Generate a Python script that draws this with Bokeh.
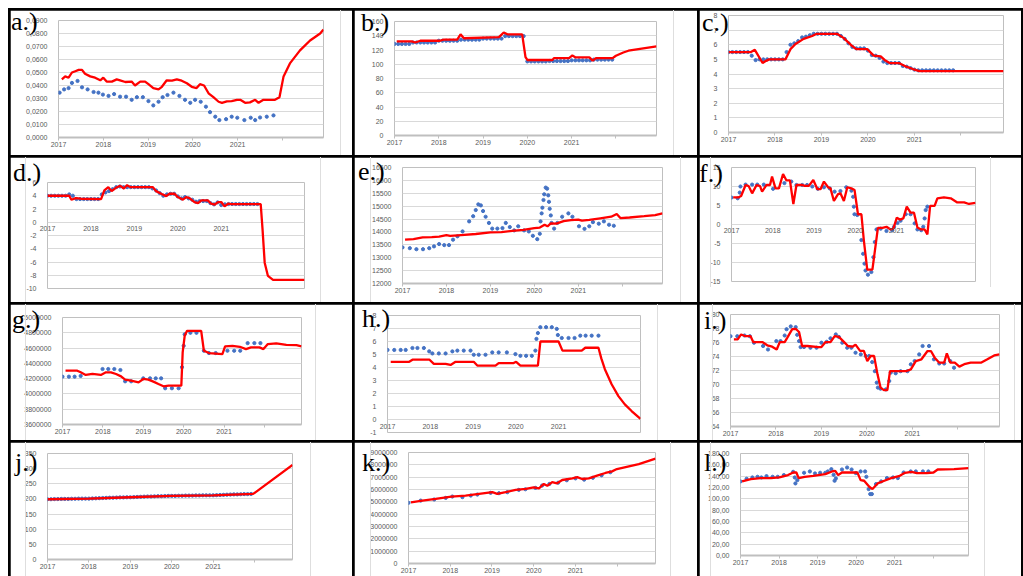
from bokeh.plotting import figure
from bokeh.models import Range1d, FixedTicker, GridBox, Div
from bokeh.embed import file_html
from bokeh.resources import INLINE

# ---------------- data (months counted from Jan 2017) ----------------
YEAR_TICKS = [2017, 2018, 2019, 2020, 2021, 2022]
YEAR_LABELS = ["2017", "2018", "2019", "2020", "2021", ""]

# a
a_red_m = [0.9,1.8,2.7,3.6,4.5,5.4,6.3,7.1,8.5,9.8,11.2,12,12.9,14.3,15.6,16.5,17.9,19.6,20.5,21.9,
           23.2,24.1,25.4,26.8,27.7,29,30.4,31.7,33,34.4,35.7,37,37.9,39,40.2,41.5,42.9,43.8,45.1,46.4,
           47.8,48.7,50,51.3,52.7,53.6,54.9,56.3,58,59.2,60.3,62,64.7,67.4,70.1,71]
a_red_v = [.0447,.047,.046,.050,.051,.052,.052,.049,.047,.046,.044,.046,.043,.043,.0447,.044,.0427,.043,.040,.043,
           .043,.041,.038,.037,.039,.044,.0437,.0447,.0437,.0417,.039,.038,.041,.040,.034,.031,.0275,.0267,.0278,.028,
           .029,.029,.0267,.027,.029,.0267,.029,.029,.029,.031,.047,.057,.067,.0746,.080,.083]
a_blue_m = [0.3,1.5,2.7,3.6,5.1,6.3,7.8,9.4,10.7,11.9,13.4,14.9,16.5,18.1,19.6,21,22.6,24.1,25.4,26.8,
            27.9,29.2,30.8,32.4,33.9,35.3,36.6,38.1,39.5,40.6,42,43.1,44.9,46.4,47.9,49.8,51.5,52.7,54,55.8,57.6]
a_blue_v = [.0345,.037,.038,.042,.0435,.0386,.037,.035,.0345,.033,.032,.0334,.0314,.0314,.029,.031,.031,.028,.0247,.0275,
            .031,.0327,.0345,.032,.029,.0267,.029,.0275,.0237,.0195,.016,.0134,.0141,.016,.0152,.0134,.0152,.0134,.0154,.016,.017]
a_yticks = [0, 0.01, 0.02, 0.03, 0.04, 0.05, 0.06, 0.07, 0.08, 0.09]
a_ylabels = ["0,0000", "0,0100", "0,0200", "0,0300", "0,0400", "0,0500", "0,0600", "0,0700", "0,0800", "0,0900"]

# b
b_red_m = [0.6,4.7,5.6,7,12.3,13.3,17,17.9,18.8,28.3,29.6,30.6,34.6,35.5,36,42.8,43.2,47.3,48.2,49.1,
           52.8,53.7,54.6,59.1,60,62,63.4,71]
b_red_v = [132,132,130.5,133,133,134.5,134.5,142,136.5,138,144.5,142,142,110,106,106,108.6,108.6,112.4,109.6,
           109.6,105,108.6,108.6,112,116.5,119,125]
b_blue_m = list(range(60))
b_blue_v = [128.5,128.5,128.5,128.5,128.5,130.5,130.5,130.5,130.5,130.5,130.5,130.5,
            133,133,133,133,133,133,134.5,134.5,134.5,134.5,134.5,134.5,
            136,136,136,136,136,136,139.5,139.5,139.5,139.5,139.5,139.5,
            104,104,104,104,104,104,104.5,104.5,104.5,104.5,104.5,104.5,
            105.5,105.5,105.5,105.5,105.5,105.5,106.5,106.5,106.5,106.5,106.5,106.5]
b_yticks = [0, 20, 40, 60, 80, 100, 120, 140, 160]
b_ylabels = ["0", "20", "40", "60", "80", "100", "120", "140", "160"]

# c
c_red_m = [0,5.8,6.8,8.8,9.7,10.5,14.7,16,17.3,19.4,21.6,22.8,28,29.7,31.8,33,35.8,37.5,39.3,40.3,
           41.6,44,45.9,47.6,49.3,71]
c_red_v = [5.5,5.5,5.65,4.75,4.9,5.0,5.0,5.7,6.05,6.4,6.6,6.75,6.75,6.47,5.94,5.7,5.7,5.26,5.2,4.96,
           4.75,4.75,4.5,4.34,4.2,4.2]
c_blue_m = list(range(59))
c_blue_v = [5.5,5.5,5.5,5.5,5.5,5.5,5.25,4.95,5.0,5.0,5.0,5.0,5.0,5.0,5.0,5.5,6.0,6.1,6.25,6.5,
            6.55,6.65,6.75,6.75,6.75,6.75,6.75,6.75,6.75,6.6,6.4,6.1,5.85,5.75,5.75,5.75,5.6,5.3,5.25,5.1,
            4.85,4.75,4.75,4.75,4.75,4.55,4.5,4.4,4.3,4.25,4.25,4.25,4.25,4.25,4.25,4.25,4.25,4.25,4.25]
c_yticks = [0, 1, 2, 3, 4, 5, 6, 7, 8]
c_ylabels = ["0", "1", "2", "3", "4", "5", "6", "7", "8"]

# d
d_red_m = [0,6,6.6,7.8,9.2,14.8,15.7,16.8,17.7,18.9,20.1,21.1,22,22.9,29.1,30,31.4,32.8,33.7,35.1,
           36,37.4,38.3,39.2,40.6,41.6,42.5,44.3,45.2,46.2,47.1,48,48.9,49.9,50.8,58.9,59.4,60,60.9,62.3,71]
d_red_v = [4.0,4.0,3.4,3.65,3.55,3.5,4.8,5.3,4.7,5.2,5.5,5.1,5.6,5.3,5.3,4.7,4.3,3.95,4.3,4.3,
           3.8,3.4,3.8,3.65,3.05,2.9,3.3,3.3,2.8,2.65,3.05,3.05,2.4,2.8,2.75,2.75,-1.0,-6.1,-8.1,-8.7,-8.7]
d_blue_m = list(range(59))
d_blue_v = [4.0,4.0,4.0,4.0,4.0,4.0,4.2,4.0,3.5,3.5,3.5,3.5,3.5,3.5,3.5,4.2,4.5,4.7,5.0,5.3,
            5.4,5.3,5.3,5.3,5.3,5.3,5.3,5.3,5.3,5.1,4.8,4.4,4.0,4.2,4.3,4.3,3.9,3.6,3.8,3.6,
            3.4,3.1,3.2,3.2,3.2,2.9,2.7,3.0,2.6,2.7,2.75,2.75,2.75,2.75,2.75,2.75,2.75,2.75,2.75]
d_yticks = [-10, -8, -6, -4, -2, 0, 2, 4, 6]
d_ylabels = ["-10", "-8", "-6", "-4", "-2", "0", "2", "4", "6"]

# e
e_red_m = [0.7,3,5.5,8,10,12,13,16,20,24,27,30,33,36,37.5,38.8,39.6,40.5,42,44,
           46,48,49,51,54,57,58.5,59.5,62,66,69,71]
e_red_v = [13700,13720,13790,13800,13820,13880,13850,13880,13920,13980,13990,14040,14080,14150,14170,14280,14220,14330,14320,14420,
           14460,14480,14440,14470,14530,14590,14700,14540,14560,14610,14650,14720]
e_blue_m = [0,2,3.8,5.6,7.3,8.6,10,11.4,12.7,13.8,15,16.4,18.2,19.3,20,20.7,21.4,22,22.7,23.6,
            24.5,25.9,27.3,28.2,29.3,30.5,31.6,33.2,34.5,35.6,36.8,37.5,37.7,38,38.2,38.5,38.7,39.1,39.5,39.8,
            40,40.2,40.5,40.7,41.4,42.3,43.6,45.3,46.4,48.2,49.7,51,52,53.6,55,56.4,57.7]
e_blue_v = [13400,13370,13330,13330,13370,13440,13530,13490,13490,13700,13830,14020,14410,14610,14850,15070,15030,14810,14590,14350,
            14130,14130,14150,14350,14190,14060,14220,14060,14020,13850,13720,13930,14410,14720,14940,15240,15460,15720,15680,15420,
            15170,14900,14640,14350,14130,14350,14590,14720,14590,14220,14120,14220,14380,14320,14410,14280,14240]
e_yticks = [12000, 12500, 13000, 13500, 14000, 14500, 15000, 15500, 16000, 16500]
e_ylabels = ["12000", "12500", "13000", "13500", "14000", "14500", "15000", "15500", "16000", "16500"]

# f
f_red_m = [0.5,2.1,2.8,4.1,5,6,7.3,8.3,8.9,10.2,11.2,11.8,12.8,13.8,15,16,17,18,18.9,20.6,
           21.3,22.5,23.8,25,25.9,26.9,28.1,28.8,29.8,31,31.7,32.7,33.7,34.9,35.8,36.8,37.8,38.5,39.5,41,
           42.6,43.9,45.1,46.3,47.1,48.1,49,50,51,52.1,53.1,54.1,55.2,56.2,57,57.8,59.1,59.9,61.8,63.8,
           65.7,67.7,69.1,71]
f_red_v = [7.15,7.15,7.5,10.4,10.1,8.2,10.4,10.1,8.65,10.4,10.4,12.6,9.5,9.5,13.3,11.6,11.6,5.4,10.4,10.4,
           10.15,10.15,11.7,9.3,9.3,11.3,9.8,9.5,6.2,8.0,8.2,6.2,9.8,9.5,9.1,2.7,2.7,-4.1,-11.9,-11.9,
           -0.9,-0.9,-0.6,-1.3,-1.1,1.8,1.3,1.6,4.7,3.1,3.1,-0.8,-1.3,-1.3,-2.6,4.9,4.9,6.9,7.15,6.9,
           5.8,5.8,5.4,5.7]
f_blue_m = [0,1.8,2.4,2.6,4.1,6,7.5,9.4,12.1,15.4,17.4,18.9,20.6,22,23.5,25.1,26.9,28.6,30,31.7,
            33.4,34.9,35.4,35.6,35.8,36.6,37.8,38.3,38.7,39,39.7,40.7,41.3,41.7,42.2,43.4,45.1,46.8,47.3,48.3,
            49.2,50.7,52.1,53.3,54.1,55.2,55.8,56.2,56.5,57]
f_blue_v = [7.1,6.9,8.4,10,10.5,10.5,10.5,10.5,9.4,10.9,11.3,10.4,10.4,10.4,10,9.4,9.8,9.5,8.65,8.8,
            9.8,8.9,7.3,4.7,2.7,2.5,-4.1,-7.7,-10.3,-12.1,-13.2,-12.5,-8.6,-4.6,-1.3,-1.1,-1.7,-1.5,-0.6,0.4,
            1.0,2.7,2.7,0.3,-1.3,-1.5,-0.6,1.6,3.8,4.7]
f_yticks = [-15, -10, -5, 0, 5, 10, 15]
f_ylabels = ["-15", "-10", "-5", "0", "5", "10", "15"]

# g
g_red_m = [0.9,4.4,5.4,6.9,8.9,11.4,12.9,14.4,15.9,17.4,18.6,20.4,22.6,24,25.5,27,28.5,30,31.5,35.3,
           35.7,36.3,37,41.2,42,43.5,47.5,48.3,50.5,52.7,54.5,56,58.5,59.7,61,63.5,66.5,69.5,71]
g_red_v = [4304000,4304000,4283000,4248000,4261000,4248000,4283000,4283000,4261000,4230000,
           4187000,4174000,4152000,4196000,4187000,4161000,4130000,4100000,4109000,4109000,
           4543000,4761000,4826000,4826000,4565000,4535000,4522000,4622000,4630000,4617000,
           4587000,4609000,4609000,4587000,4652000,4661000,4643000,4639000,4622000]
g_blue_m = [0,1.9,3.6,5.4,11.9,13.6,15.4,17.2,18.6,20.4,24,26,27.7,29.3,30.5,32.5,34.5,35.5,36,36.3,
            38,39.8,42,43.5,45.5,49,51,52.8,55,57,58.8]
g_blue_v = [4226000,4226000,4226000,4235000,4326000,4326000,4326000,4313000,4165000,4165000,
            4204000,4204000,4204000,4204000,4074000,4074000,4074000,4350000,4630000,4780000,
            4800000,4800000,4565000,4535000,4535000,4565000,4565000,4565000,4665000,4665000,4665000]
g_yticks = [3600000, 3800000, 4000000, 4200000, 4400000, 4600000, 4800000, 5000000]
g_ylabels = ["3600000", "3800000", "4000000", "4200000", "4400000", "4600000", "4800000", "5000000"]

# h
h_red_m = [0.9,6.1,7,11.8,13,16.3,17.7,19.1,24.2,25.2,30.3,31.2,35.4,36.1,37.3,42.2,42.9,48,49.1,54.5,
           55.5,59.2,60,61,62.9,64.8,66.6,68.5,71]
h_red_v = [4.44,4.44,4.6,4.6,4.28,4.28,4.2,4.44,4.44,4.15,4.15,4.34,4.34,4.44,4.15,4.15,6.0,6.0,5.3,5.3,
           5.52,5.52,4.7,3.87,2.71,1.8,1.16,0.65,0.05]
h_blue_m = [0,1.9,3.7,5.1,7,8.4,10.2,11.7,12.6,14.4,16.3,18.2,19.6,21.4,23.3,24.2,25.6,27.5,29.4,31.2,
            33.5,35.9,37.3,38.9,40.5,41.5,41.8,42.2,42.9,44.5,46.1,47.5,47.8,48.9,50.8,52.5,54.1,55.6,57.3,59.2]
h_blue_v = [5.35,5.35,5.35,5.35,5.5,5.5,5.5,5.24,5.08,5.08,5.08,5.24,5.3,5.3,5.3,4.98,4.98,4.98,5.16,5.16,
            5.16,5.03,4.9,4.9,4.9,5.3,6.2,6.65,7.1,7.1,7.1,6.97,6.5,6.27,6.27,6.27,6.45,6.45,6.45,6.45]
h_yticks = [-1, 0, 1, 2, 3, 4, 5, 6, 7, 8]
h_ylabels = ["-1", "0", "1", "2", "3", "4", "5", "6", "7", "8"]

# i
i_red_m = [0.9,1.9,2.8,4,5.3,6,8.4,9.7,11,12.2,13,14.3,15,16.3,17.2,18.1,18.9,20.3,23.3,24,
           25.1,26.4,27.5,28.6,30,31,32.2,33,34.2,35.2,36.1,37,37.9,38.8,39.6,40.5,41.4,42.1,46.3,47.6,
           48.9,50.4,52,52.9,53.9,55.1,56.4,57.1,58,59.2,60.4,61.7,63.4,66.1,67.8,69.6,71]
i_red_v = [76.44,76.44,77.15,76.9,76.9,76.06,76.06,75.6,75.4,75.0,76.06,76.06,76.7,77.9,77.96,77.5,75.5,75.5,75.35,75.35,
           76.06,76.06,76.9,76.8,76.06,75.5,75.4,75.7,74.8,74.8,73.35,74.07,74.07,71.45,69.56,69.2,69.2,71.9,71.9,72.17,
           73.35,73.6,74.78,74.78,73.83,73.12,73.12,74.45,73.12,73.12,72.55,72.9,73.12,73.12,73.6,74.16,74.3]
i_blue_m = [0,1.8,3.7,5.1,6.2,8.6,9.9,12.1,13.2,14.3,14.8,15.9,17.2,17.6,18.1,18.5,19.4,21.1,22.7,24,
            25.4,26.4,27.8,28.6,29.5,30.8,31.9,33,34.4,35.7,36.6,37.4,38.1,38.6,38.9,39.6,41,41.9,42.3,43.6,
            44.9,46.7,47.6,48.6,49.8,50.7,52.4,53.7,55.1,56.4,58,59]
i_blue_v = [76.9,76.9,77.0,76.9,75.97,75.5,75.0,76.2,76.2,77.0,77.9,78.3,78.2,77.1,76.2,75.35,75.35,75.25,75.25,75.97,
            76.1,76.6,77.15,76.8,75.97,75.25,75.25,74.54,74.3,74.07,74.07,73.2,71.9,70.27,69.56,69.4,69.3,70.5,71.7,71.6,
            71.9,71.9,72.88,73.35,74.3,75.5,75.5,73.6,73.0,73.0,73.35,72.4]
i_yticks = [64, 66, 68, 70, 72, 74, 76, 78, 80]
i_ylabels = ["64", "66", "68", "70", "72", "74", "76", "78", "80"]

# j
j_red_m = [0, 12, 24, 36, 48, 59.6, 71]
j_red_v = [199, 201, 205.5, 210, 212, 216.5, 312]
j_blue_m = list(range(60))
j_blue_v = [199,199,199.5,199.5,200,200,200,200.5,200.5,201,201,201,
            201,201.5,202,202.5,203,203.5,204,204,204.5,205,205,205.5,
            205.5,206,206.5,207,207.5,208,208,208.5,209,209,209.5,210,
            210,210,210.5,210.5,211,211,211,211.5,211.5,212,212,212,
            212,212.5,213,213.5,214,214.5,215,215,215.5,216,216,216.5]
j_yticks = [0, 50, 100, 150, 200, 250, 300, 350]
j_ylabels = ["0", "50", "100", "150", "200", "250", "300", "350"]

# k
k_red_m = [0.7,4,7.8,12.3,16.4,20.3,24.1,25.5,27.9,30.8,33.7,36,37.5,38.9,39.9,41.3,42.7,44.2,47.1,48.5,
           49.9,51.8,54.2,56.6,58.5,59.9,66.2,71]
k_red_v = [4950000,5100000,5240000,5430000,5500000,5650000,5780000,5650000,5780000,5970000,
           6050000,6180000,6100000,6450000,6300000,6600000,6500000,6770000,6900000,7000000,
           6850000,6900000,7120000,7340000,7470000,7660000,8060000,8500000]
k_blue_m = [0,3.5,7.4,10.7,12.6,15.5,17.9,19.8,23.6,26,28.4,31.7,33.6,36.5,38.4,40.5,43,45.5,48,50.5,53,55.5,58]
k_blue_v = [4920000,5100000,5190000,5320000,5430000,5380000,5510000,5590000,5730000,5700000,
            5780000,5970000,6020000,6130000,6320000,6450000,6550000,6750000,6900000,6800000,
            6950000,7150000,7400000]
k_yticks = [0, 1000000, 2000000, 3000000, 4000000, 5000000, 6000000, 7000000, 8000000, 9000000]
k_ylabels = ["0", "1000000", "2000000", "3000000", "4000000", "5000000", "6000000", "7000000", "8000000", "9000000"]

# l
l_red_m = [0.5,3.2,6.3,9.5,12.1,14.8,16.4,17.4,18.1,20,22.7,26.4,28.5,29.5,30.4,31.6,36.4,37.4,38.5,40.1,
           41.1,42.7,44.8,46.9,49.6,51.2,53.3,54.9,58,60.1,61.4,66.5,71]
l_red_v = [130.7,134.8,136.6,136.6,137.7,141.9,146.5,146.5,136.6,138.9,140.7,143.6,148.3,149.5,141.9,146.5,146.5,133,131.9,121.3,
           117.2,127.2,131.9,136.6,140.7,145.9,147.7,145.4,145.4,146.5,151.8,152.4,154.2]
l_blue_m = [0,1.9,3.7,5.3,6.5,8.1,10,11.6,13.5,16.4,16.9,17.1,17.7,19.8,21.6,23.2,24.8,26.4,27.2,28.3,
            29,29.3,29.7,31.6,33.2,34.6,35.9,37.4,38.8,39.2,39.9,40.4,40.9,42.2,43.8,45.6,47.5,49,50.8,53,
            54.6,56.8,58.5]
l_blue_v = [130.7,135.4,137.7,138.9,137.7,140.1,138.9,138.9,141.9,147.7,137.7,127.2,133,146,148.3,144.8,146,146,148.3,152.4,
            142.4,131.9,136,151.8,155.3,151.8,145.4,148.3,148.3,138.9,117.2,108.4,108.4,126,130.7,136.6,137.7,136.6,146.5,148.3,
            148.3,148.3,148.3]
l_yticks = [0, 20, 40, 60, 80, 100, 120, 140, 160, 180]
l_ylabels = ["0,00", "20,00", "40,00", "60,00", "80,00", "100,00", "120,00", "140,00", "160,00", "180,00"]

# ---------------- drawing ----------------
X0 = 2017.0
X1 = 2017 + 71 / 12
RED = "#ff0000"
BLUE = "#4472c4"
LABEL_GRAY = "#595959"
FONT = "Liberation Sans"


def years(months):
    return [X0 + m / 12 for m in months]


def panel(size, frame, yrange, yticks, ylabels, red, blue, zero_standoff=None):
    cw, ch = size
    left, top, fw, fh = frame
    p = figure(width=cw, height=ch, x_range=Range1d(X0, X1), y_range=Range1d(*yrange),
               output_backend="svg", toolbar_location=None, title=None, frame_align=False,
               min_border_left=left, min_border_top=top,
               min_border_right=max(cw - left - fw, 0), min_border_bottom=max(ch - top - fh, 0))
    p.background_fill_color = "white"
    p.border_fill_color = "white"
    p.outline_line_color = None
    p.xgrid.visible = False
    p.ygrid.grid_line_color = "#d9d9d9"
    p.ygrid.grid_line_width = 1

    p.yaxis.ticker = FixedTicker(ticks=yticks)
    p.yaxis.major_label_overrides = dict(zip(yticks, ylabels))
    p.yaxis.axis_line_color = None
    p.yaxis.major_tick_line_color = None
    p.yaxis.minor_tick_line_color = None
    p.yaxis.major_label_text_font = FONT
    p.yaxis.major_label_text_font_size = "7px"
    p.yaxis.major_label_text_color = LABEL_GRAY
    p.yaxis.major_label_standoff = 5

    p.xaxis.ticker = FixedTicker(ticks=YEAR_TICKS)
    p.xaxis.major_label_overrides = dict(zip(YEAR_TICKS, YEAR_LABELS))
    p.xaxis.minor_tick_line_color = None
    p.xaxis.major_label_text_font = FONT
    p.xaxis.major_label_text_font_size = "7px"
    p.xaxis.major_label_text_color = LABEL_GRAY
    if zero_standoff is None:
        p.xaxis.axis_line_color = "#bfbfbf"
        p.xaxis.axis_line_width = 2
        p.xaxis.major_tick_line_color = "#bfbfbf"
        p.xaxis.major_tick_in = 0
        p.xaxis.major_tick_out = 3
        p.xaxis.major_label_standoff = 1
    else:
        # labels sit just under the zero line, like the category axis crossing at 0
        p.xaxis.axis_line_color = None
        p.xaxis.major_tick_line_color = None
        p.xaxis.major_tick_in = 0
        p.xaxis.major_tick_out = 0
        p.xaxis.major_label_standoff = zero_standoff

    rm, rv = red
    bm, bv = blue
    p.scatter(years(bm), bv, marker="circle", size=3.2, fill_color=BLUE, line_color=BLUE)
    p.line(years(rm), rv, line_color=RED, line_width=2.3)
    return p


def tag(text, top, left):
    return Div(text=text, width=40, height=24, margin=(top, 0, 0, left), align="start",
               styles={"font-family": "Liberation Serif", "font-size": "26px", "line-height": "20px",
                       "color": "black", "white-space": "nowrap"})


def edge(left, height):
    # faint border of the embedded chart area
    return Div(text="", width=1, height=height, margin=(0, 0, 0, left), align="start",
               styles={"background-color": "#dedede"})


C1, C2, C3 = 342, 343, 322
R1, R2, R3, R4 = 145, 145, 136, 134

pa = panel((C1, R1), (48, 10, 265, 117), (0, 0.09), a_yticks, a_ylabels, (a_red_m, a_red_v), (a_blue_m, a_blue_v))
pb = panel((C2, R1), (40, 11, 262, 114), (0, 160), b_yticks, b_ylabels, (b_red_m, b_red_v), (b_blue_m, b_blue_v))
pc = panel((C3, R1), (29, 5, 275, 117), (0, 8), c_yticks, c_ylabels, (c_red_m, c_red_v), (c_blue_m, c_blue_v))
pd = panel((C1, R2), (37, 25, 257, 106), (-10, 6), d_yticks, d_ylabels, (d_red_m, d_red_v), (d_blue_m, d_blue_v), zero_standoff=-63)
pe = panel((C2, R2), (48, 10, 260, 116), (12000, 16500), e_yticks, e_ylabels, (e_red_m, e_red_v), (e_blue_m, e_blue_v))
pf = panel((C3, R2), (32, 10, 244, 114), (-15, 15), f_yticks, f_ylabels, (f_red_m, f_red_v), (f_blue_m, f_blue_v), zero_standoff=-54)
pg = panel((C1, R3), (52, 13, 239, 107), (3600000, 5000000), g_yticks, g_ylabels, (g_red_m, g_red_v), (g_blue_m, g_blue_v))
ph = panel((C2, R3), (33, 11, 253, 117), (-1, 8), h_yticks, h_ylabels, (h_red_m, h_red_v), (h_blue_m, h_blue_v), zero_standoff=-9)
pi = panel((C3, R3), (31, 10, 269, 112), (64, 80), i_yticks, i_ylabels, (i_red_m, i_red_v), (i_blue_m, i_blue_v))
pj = panel((C1, R4), (37, 11, 245, 106), (0, 350), j_yticks, j_ylabels, (j_red_m, j_red_v), (j_blue_m, j_blue_v))
pk = panel((C2, R4), (54, 10, 247, 111), (0, 9000000), k_yticks, k_ylabels, (k_red_m, k_red_v), (k_blue_m, k_blue_v))
pl = panel((C3, R4), (41, 11, 228, 102), (0, 180), l_yticks, l_ylabels, (l_red_m, l_red_v), (l_blue_m, l_blue_v))

children = [
    (pa, 0, 0), (pb, 0, 1), (pc, 0, 2),
    (pd, 1, 0), (pe, 1, 1), (pf, 1, 2),
    (pg, 2, 0), (ph, 2, 1), (pi, 2, 2),
    (pj, 3, 0), (pk, 3, 1), (pl, 3, 2),
    # chart-area edges
    (edge(330, R1), 0, 0), (edge(319, R1), 0, 1),
    (edge(15, R2), 1, 0), (edge(310, R2), 1, 0),
    (edge(16, R2), 1, 1), (edge(326, R2), 1, 1),
    (edge(11, 130), 1, 2), (edge(291, 130), 1, 2),
    (edge(15, R3), 2, 0), (edge(305, R3), 2, 0),
    (edge(303, R3), 2, 1),
    (edge(13, R3), 2, 2), (edge(315, R3), 2, 2),
    (edge(15, R4), 3, 0), (edge(300, R4), 3, 0),
    (edge(16, R4), 3, 1), (edge(316, R4), 3, 1),
    (edge(11, R4), 3, 2), (edge(285, R4), 3, 2),
    # panel tags
    (tag("a.)", 2, 1), 0, 0), (tag("b.)", 3, 7), 0, 1), (tag("c.)", 3, 3), 0, 2),
    (tag("d.)", 6, 3), 1, 0), (tag("e.)", 5, 4), 1, 1), (tag("f.)", 7, 0), 1, 2),
    (tag("g.)", 6, 2), 2, 0), (tag("h.)", 5, 8), 2, 1), (tag("i.)", 7, 5), 2, 2),
    (tag("j.)", 11, 5), 3, 0), (tag("k.)", 11, 8), 3, 1), (tag("l.)", 11, 5), 3, 2),
]

grid = GridBox(children=children, spacing=2, margin=(8, 0, 0, 8),
               styles={"background-color": "black", "padding": "2px 2px 0px 2px"})

open("out.html", "w").write(file_html(grid, INLINE))
